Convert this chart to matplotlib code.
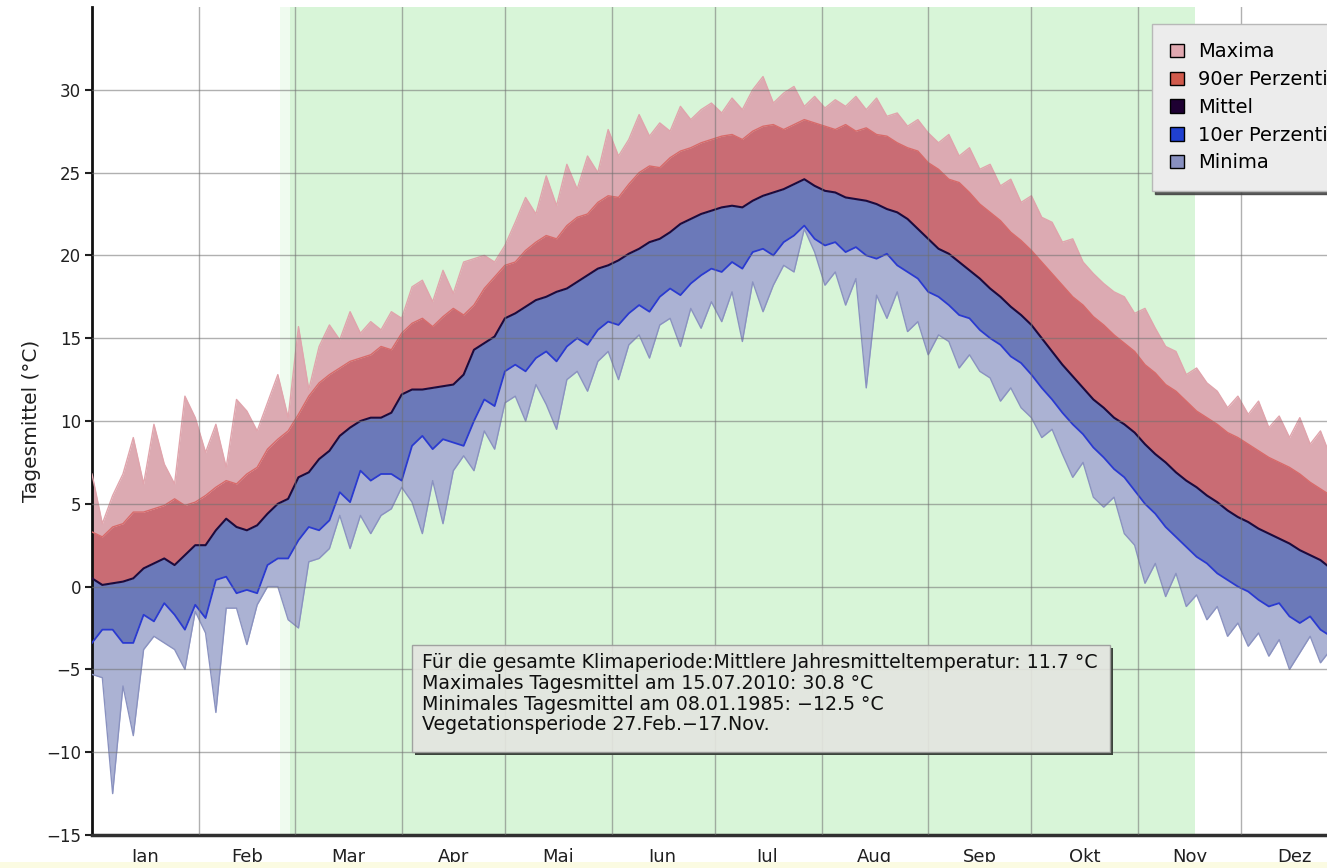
import numpy as np
import matplotlib
matplotlib.use("Agg")
import matplotlib.pyplot as plt
from matplotlib.patches import Patch, Rectangle

plt.rcParams['font.family'] = ['DejaVu Sans']

# ---------------- data (values every 3 days, day 0 = 1 Jan) ----------------
days = list(range(0, 366, 3))

mittel = [0.5, 0.1, 0.2, 0.3, 0.5, 1.1, 1.4, 1.7, 1.3, 1.9,
          2.5, 2.5, 3.4, 4.1, 3.6, 3.4, 3.7, 4.4, 5.0, 5.3,
          6.6, 6.9, 7.7, 8.2, 9.1, 9.6, 10.0, 10.2, 10.2, 10.5,
          11.6, 11.9, 11.9, 12.0, 12.1, 12.2, 12.8, 14.3, 14.7, 15.1,
          16.2,
          16.5, 16.9, 17.3, 17.5, 17.8, 18.0, 18.4, 18.8, 19.2, 19.4,
          19.7, 20.1, 20.4, 20.8, 21.0, 21.4, 21.9, 22.2, 22.5, 22.7,
          22.9, 23.0, 22.9, 23.3, 23.6, 23.8, 24.0, 24.3, 24.6, 24.2,
          23.9, 23.8, 23.5, 23.4, 23.3, 23.1, 22.8, 22.6, 22.2, 21.6,
          21.0, 20.4, 20.1, 19.6, 19.1, 18.6, 18.0, 17.5, 16.9, 16.4,
          15.8, 15.0, 14.2, 13.4, 12.7, 12.0, 11.3, 10.8, 10.2, 9.8,
          9.3, 8.6, 8.0, 7.5, 6.9, 6.4, 6.0, 5.5, 5.1, 4.6,
          4.2, 3.9, 3.5, 3.2, 2.9, 2.6, 2.2, 1.9, 1.6, 1.1,
          0.7]

p90 = [3.3, 3.0, 3.6, 3.8, 4.5, 4.5, 4.7, 4.9, 5.3, 4.9,
       5.1, 5.5, 6.0, 6.4, 6.2, 6.8, 7.2, 8.3, 8.9, 9.4,
       10.4, 11.5, 12.3, 12.8, 13.2, 13.6, 13.8, 14.0, 14.5, 14.3,
       15.3, 15.9, 16.2, 15.7, 16.3, 16.8, 16.4, 17.0, 18.0, 18.7,
       19.4,
       19.6, 20.3, 20.8, 21.2, 21.0, 21.8, 22.3, 22.5, 23.2, 23.6,
       23.5, 24.3, 25.0, 25.4, 25.3, 25.9, 26.3, 26.5, 26.8, 27.0,
       27.2, 27.3, 27.0, 27.5, 27.8, 27.9, 27.6, 27.9, 28.2, 28.0,
       27.8, 27.6, 27.9, 27.5, 27.7, 27.3, 27.2, 26.8, 26.5, 26.3,
       25.6, 25.2, 24.6, 24.4, 23.8, 23.1, 22.6, 22.1, 21.4, 20.9,
       20.3, 19.6, 18.9, 18.2, 17.5, 17.0, 16.3, 15.8, 15.2, 14.7,
       14.2, 13.4, 12.9, 12.2, 11.8, 11.2, 10.6, 10.2, 9.8, 9.3,
       9.0, 8.6, 8.2, 7.8, 7.5, 7.2, 6.8, 6.3, 5.9, 5.5,
       5.1]

maxima = [6.8, 3.8, 5.5, 6.8, 9.0, 6.2, 9.8, 7.4, 6.2, 11.5,
          10.2, 8.1, 9.8, 7.2, 11.3, 10.6, 9.4, 11.1, 12.8, 10.2,
          15.7, 11.9, 14.5, 15.8, 14.9, 16.6, 15.3, 16.0, 15.5, 16.6,
          16.2, 18.1, 18.5, 17.2, 19.1, 17.7, 19.6, 19.8, 20.0, 19.6,
          20.6,
          22.0, 23.5, 22.5, 24.8, 23.0, 25.5, 24.0, 26.0, 25.0, 27.6,
          26.0, 27.0, 28.5, 27.2, 28.0, 27.5, 29.0, 28.2, 28.8, 29.2,
          28.6, 29.5, 28.8, 30.0, 30.8, 29.2, 29.8, 30.2, 29.0, 29.6,
          28.9, 29.4, 29.0, 29.6, 28.8, 29.5, 28.4, 28.6, 27.8, 28.2,
          27.4, 26.8, 27.3, 26.0, 26.5, 25.2, 25.5, 24.2, 24.6, 23.2,
          23.6, 22.3, 22.0, 20.8, 21.0, 19.6, 18.9, 18.3, 17.8, 17.5,
          16.5, 16.8, 15.6, 14.5, 14.2, 12.8, 13.2, 12.3, 11.8, 10.8,
          11.5, 10.4, 11.2, 9.6, 10.3, 9.0, 10.2, 8.6, 9.4, 7.8,
          8.3]

p10 = [-3.4, -2.6, -2.6, -3.4, -3.4, -1.7, -2.1, -1.0, -1.7, -2.6,
       -1.1, -1.9, 0.4, 0.6, -0.4, -0.2, -0.4, 1.3, 1.7, 1.7,
       2.8, 3.6, 3.4, 4.0, 5.7, 5.1, 7.0, 6.4, 6.8, 6.8,
       6.4, 8.5, 9.1, 8.3, 8.9, 8.7, 8.5, 10.0, 11.3, 10.9,
       13.0,
       13.4, 13.0, 13.8, 14.2, 13.6, 14.5, 15.0, 14.6, 15.5, 16.0,
       15.8, 16.5, 17.0, 16.6, 17.5, 18.0, 17.6, 18.3, 18.8, 19.2,
       19.0, 19.6, 19.2, 20.2, 20.4, 20.0, 20.8, 21.2, 21.8, 21.0,
       20.6, 20.8, 20.2, 20.5, 20.0, 19.8, 20.1, 19.4, 19.0, 18.6,
       17.8, 17.5, 17.0, 16.4, 16.2, 15.5, 15.0, 14.6, 13.9, 13.5,
       12.8, 12.0, 11.3, 10.5, 9.8, 9.2, 8.4, 7.8, 7.1, 6.6,
       5.8, 5.0, 4.4, 3.6, 3.0, 2.4, 1.8, 1.4, 0.8, 0.4,
       0.0, -0.3, -0.8, -1.2, -1.0, -1.8, -2.2, -1.8, -2.6, -3.0,
       -3.4]

minima = [-5.3, -5.5, -12.5, -6.0, -9.0, -3.8, -3.0, -3.4, -3.8, -5.0,
          -1.5, -2.8, -7.6, -1.3, -1.3, -3.5, -1.1, 0.0, 0.0, -2.0,
          -2.5, 1.5, 1.7, 2.3, 4.3, 2.3, 4.3, 3.2, 4.3, 4.7,
          6.0, 5.1, 3.2, 6.4, 3.8, 7.0, 7.9, 7.0, 9.4, 8.3,
          11.1,
          11.5, 10.0, 12.2, 11.0, 9.5, 12.5, 13.0, 11.8, 13.6, 14.2,
          12.5, 14.6, 15.2, 13.8, 15.8, 16.2, 14.5, 16.8, 15.6, 17.2,
          16.0, 17.8, 14.8, 18.4, 16.6, 18.2, 19.4, 19.0, 21.6, 20.2,
          18.2, 19.0, 17.0, 18.6, 12.0, 17.6, 16.2, 17.8, 15.4, 16.0,
          14.0, 15.2, 14.8, 13.2, 14.0, 13.0, 12.6, 11.2, 12.0, 10.8,
          10.2, 9.0, 9.5, 8.0, 6.6, 7.5, 5.4, 4.8, 5.4, 3.2,
          2.5, 0.2, 1.4, -0.6, 0.8, -1.2, -0.5, -2.0, -1.2, -3.0,
          -2.2, -3.6, -2.8, -4.2, -3.2, -5.0, -4.0, -3.0, -4.6, -3.8,
          -6.0]

month_starts = [0, 31, 59, 90, 120, 151, 181, 212, 243, 273, 304, 334, 365]
month_labels = ['Jan', 'Feb', 'Mar', 'Apr', 'Mai', 'Jun', 'Jul', 'Aug',
                'Sep', 'Okt', 'Nov', 'Dez']
veg_start, veg_end = 57.5, 320.5
legend_labels = ['Maxima', '90er Perzentil', 'Mittel', '10er Perzentil', 'Minima']
info_lines = ['Für die gesamte Klimaperiode:Mittlere Jahresmitteltemperatur: 11.7 °C',
              'Maximales Tagesmittel am 15.07.2010: 30.8 °C',
              'Minimales Tagesmittel am 08.01.1985: \u221212.5 °C',
              'Vegetationsperiode 27.Feb.\u221217.Nov.']

# ---------------- figure ----------------
W, H = 1327, 868
fig = plt.figure(figsize=(W / 100, H / 100), dpi=100)
fig.patch.set_facecolor('white')
fig.patches.append(Rectangle((0, 0), 1, 6 / H, transform=fig.transFigure,
                             facecolor='#fbfbe2', edgecolor='none', zorder=0))

ax = fig.add_axes([92 / W, 33 / H, 1256 / W, 828 / H])
ax.set_xlim(0, 365)
ax.set_ylim(-15, 35)

x = np.array(days)
mx, p9, mi, p1, mn = map(np.array, (maxima, p90, mittel, p10, minima))

ax.axvspan(veg_start - 3, veg_start, color='#d8f5d8', alpha=0.4, zorder=0, lw=0)
ax.axvspan(veg_start, veg_end, color='#d8f5d8', zorder=0, lw=0)

ax.fill_between(x, p9, mx, color='#dcaab2', lw=0, zorder=2)
ax.fill_between(x, mi, p9, color='#c96c74', lw=0, zorder=2)
ax.fill_between(x, p1, mi, color='#6b79b9', lw=0, zorder=2)
ax.fill_between(x, mn, p1, color='#abb2d3', lw=0, zorder=2)

ax.plot(x, mx, color='#e0a4ac', lw=1.0, zorder=3)
ax.plot(x, p9, color='#d86a6a', lw=1.0, zorder=3)
ax.plot(x, mn, color='#8a92c0', lw=1.0, zorder=3)
ax.plot(x, p1, color='#2a3ad0', lw=1.3, zorder=3)
ax.plot(x, mi, color='#1c0a3c', lw=1.5, zorder=3)

# grid
for m in month_starts[1:-1]:
    ax.axvline(m, color='#707070', lw=1.0, alpha=0.55, zorder=4)
for yv in range(-10, 35, 5):
    ax.axhline(yv, color='#707070', lw=1.0, alpha=0.55, zorder=4)

ax.set_yticks(range(-15, 31, 5))
ax.set_yticklabels([str(v) if v >= 0 else '\u2212' + str(-v) for v in range(-15, 31, 5)])
mids = [(month_starts[i] + month_starts[i + 1]) / 2 for i in range(12)]
ax.set_xticks(mids)
ax.set_xticklabels(month_labels)
ax.tick_params(axis='x', length=0, pad=9, labelsize=13, colors='#202020')
ax.tick_params(axis='y', length=5, width=1.5, direction='out', pad=3,
               labelsize=12, colors='#202020')
for s in ['top', 'right']:
    ax.spines[s].set_visible(False)
ax.spines['left'].set_linewidth(2)
ax.spines['bottom'].set_linewidth(2.5)
ax.spines['left'].set_color('#101010')
ax.spines['bottom'].set_color('#303030')
ax.set_ylabel('Tagesmittel (°C)', fontsize=14.5, color='#202020', labelpad=3.5)

# legend (box runs past the right edge, as in the reference)
leg_cols = ['#e0a8b0', '#d05a4c', '#1e0032', '#2040d0', '#8890c0']
handles = [Patch(facecolor=c, edgecolor='black', lw=1.0) for c in leg_cols]
leg = fig.legend(handles, legend_labels, loc='upper left',
                 bbox_to_anchor=(1152 / W, 1 - 24 / H), borderaxespad=0,
                 fontsize=14, frameon=True, fancybox=False,
                 shadow={'color': '#404040', 'alpha': 0.85},
                 handlelength=0.7, handleheight=0.7, handletextpad=0.7,
                 labelspacing=0.45, borderpad=0.95)
leg.get_frame().set_facecolor('#ececec')
leg.get_frame().set_edgecolor('#b8b8b8')
leg.get_frame().set_alpha(1)
leg.set_zorder(10)

# info box
bx0, by0, bx1, by1 = 412, 645, 1110, 752
sh = 3
fig.patches.append(Rectangle(((bx0 + sh) / W, 1 - (by1 + sh) / H), (bx1 - bx0) / W,
                             sh / H, transform=fig.transFigure,
                             facecolor='#3c443c', edgecolor='none', zorder=5))
fig.patches.append(Rectangle((bx1 / W, 1 - (by1 + sh) / H), sh / W,
                             (by1 - by0) / H, transform=fig.transFigure,
                             facecolor='#3c443c', edgecolor='none', zorder=5))
fig.patches.append(Rectangle((bx0 / W, 1 - by1 / H), (bx1 - bx0) / W,
                             (by1 - by0) / H, transform=fig.transFigure,
                             facecolor='#e4e5e0', edgecolor='#9a9a9a', lw=1,
                             alpha=0.9, zorder=6))
fig.text(422 / W, 1 - 653 / H, '\n'.join(info_lines), fontsize=13.7,
         va='top', ha='left', linespacing=1.12, color='#101010', zorder=7)

fig.savefig('out.png', dpi=100)
